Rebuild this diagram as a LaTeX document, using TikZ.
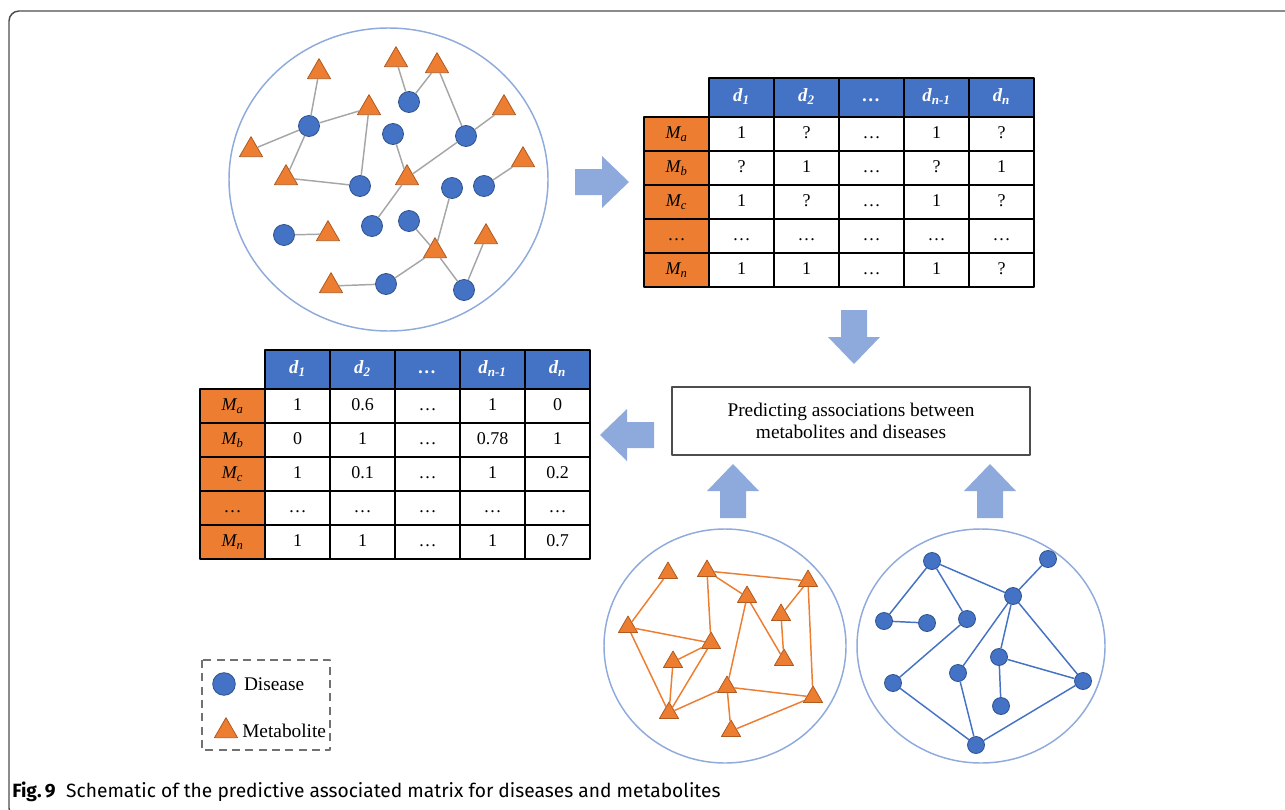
\documentclass[tikz,border=0pt]{standalone}
\usepackage{fontspec}
\setmainfont{Liberation Serif}
\newfontfamily\capfont{Fira Sans}
\usetikzlibrary{shapes.geometric,positioning}
\definecolor{disblue}{HTML}{4472C4}
\definecolor{disline}{HTML}{2F528F}
\definecolor{metor}{HTML}{ED7D31}
\definecolor{metline}{HTML}{AE5A21}
\definecolor{ringblue}{HTML}{8FAADC}
\definecolor{arrblue}{HTML}{8EA9DB}
\definecolor{edgegrey}{HTML}{A6A6A6}
\definecolor{framegrey}{HTML}{4D4D4D}
\tikzset{
  dis/.style={circle,fill=disblue,draw=disline,line width=0.6pt,inner sep=0pt,minimum size=15.75pt},
  met/.style={regular polygon,regular polygon sides=3,fill=metor,draw=metline,line width=0.6pt,inner sep=0pt,minimum size=20pt},
  ring/.style={draw=ringblue,line width=1.1pt},
  greyedge/.style={draw=edgegrey,line width=1.1pt},
  oredge/.style={draw=metor,line width=1.1pt},
  blueedge/.style={draw=disblue,line width=1.1pt},
  cell/.style={draw=black,line width=1.1pt,minimum width=48.75pt,minimum height=25.5pt,inner sep=0pt,
    text height=9pt,text depth=2.5pt,font=\fontsize{13.5}{16}\selectfont},
  headcell/.style={cell,fill=disblue,minimum height=29.25pt,text=white,font=\fontsize{14}{16}\selectfont\bfseries\itshape},
  rowcell/.style={cell,fill=metor,font=\fontsize{13.5}{16}\selectfont\itshape},
  bigarrow/.style={fill=arrblue},
  legtext/.style={inner sep=0pt,font=\fontsize{14.5}{17}\selectfont}
}
\begin{document}
\begin{tikzpicture}[x=0.75pt,y=-0.75pt,line join=round]
\clip (0,0) rectangle (1285,810);
% frame
\draw[framegrey,line width=1.1pt,rounded corners=7.5pt] (1295,11) -- (9,11) -- (9,818) -- (40,818);
% known network
\draw[ring] (388.5,179.5) ellipse [x radius=159.5, y radius=151.5];
\foreach \n/\x/\y in {t1/319/72, t2/396/60, t3/437/66, t4/369/108, t5/504/108, t6/251/150, t7/286/178,
  t8/407/178, t9/523/160, t10/328/234, t11/486/237, t12/435/251, t13/331/286}
  \node[met] (\n) at (\x,\y) {};
\foreach \n/\x/\y in {c1/409/102, c2/309/126, c3/393/134, c4/466/136, c5/360/186, c6/452/188,
  c7/484/186, c8/372/226, c9/409/221, c10/284/235, c11/386/284, c12/464/290}
  \node[dis] (\n) at (\x,\y) {};
\foreach \a/\b in {t1/c2, c2/t4, c2/t6, c2/t7, t7/c5, t4/c5, t2/c1, c1/t3, t3/c4, c4/t5, c4/t8,
  c3/t8, t8/c8, c7/t9, c10/t10, c6/t12, c9/t12, t12/c12, t12/c11, c11/t13, c12/t11}
  \draw[greyedge] (\a) -- (\b);
% block arrows
\foreach \x/\y/\a in {602/182/0, 854/337/-90, 627/435/180, 733/491/90, 990/491/90}
  \fill[bigarrow,shift={(\x,\y)},rotate=\a] (-27,-13) -- (0,-13) -- (0,-26) -- (27,0) -- (0,26) -- (0,13) -- (-27,13) -- cycle;
% matrices: header and row labels
\foreach \mx/\my/\tag in {644/78/kn, 200/350/pr} {
  \foreach \h [count=\c] in {d\textsubscript{1}, d\textsubscript{2}, …, d\textsubscript{n-1}, d\textsubscript{n}}
    \node[headcell] (\tag-0-\c) at ({\mx+32.5+65*\c},{\my+19.5}) {\h};
  \foreach \l [count=\r] in {M\textsubscript{a}, M\textsubscript{b}, M\textsubscript{c}, \textup{…}, M\textsubscript{n}}
    \node[rowcell] (\tag-\r-0) at ({\mx+32.5},{\my+22+34*\r}) {\l};
}
\foreach \row [count=\r] in {{1,?,…,1,?},{?,1,…,?,1},{1,?,…,1,?},{…,…,…,…,…},{1,1,…,1,?}}
  \foreach \v [count=\c] in \row
    \node[cell] (kn-\r-\c) at ({644+32.5+65*\c},{78+22+34*\r}) {\v};
\foreach \row [count=\r] in {{1,0.6,…,1,0},{0,1,…,0.78,1},{1,0.1,…,1,0.2},{…,…,…,…,…},{1,1,…,1,0.7}}
  \foreach \v [count=\c] in \row
    \node[cell] (pr-\r-\c) at ({200+32.5+65*\c},{350+22+34*\r}) {\v};
% prediction step
\node[draw=framegrey,line width=1.1pt,minimum width=268.5pt,minimum height=51pt,align=center,
  font=\fontsize{14.5}{16.5}\selectfont] (pred) at (851,421) {Predicting associations between\\metabolites and diseases};
% metabolite network
\draw[ring] (725,646) ellipse [x radius=121, y radius=117];
\foreach \n/\x/\y in {o1/668/573, o2/707/571, o3/808/581, o4/747/597, o5/781/615, o6/628/627,
  o7/711/643, o8/673/662, o9/784/660, o10/727/687, o11/813/697, o12/669/713, o13/731/731}
  \node[met,minimum size=16.5pt] (\n) at (\x,\y) {};
\foreach \a/\b in {o1/o6, o2/o3, o2/o4, o2/o7, o3/o5, o3/o11, o4/o9, o4/o10, o5/o9, o6/o7, o6/o12,
  o7/o8, o7/o12, o8/o12, o12/o10, o10/o11, o10/o13, o13/o11}
  \draw[oredge] (\a) -- (\b);
% disease network
\draw[ring] (981,646) ellipse [x radius=124, y radius=117];
\foreach \n/\x/\y in {b1/932/561, b2/1048/559, b3/1013/596, b4/884/621, b5/927/623, b6/967/619,
  b7/999/657, b8/893/683, b9/958/673, b10/1083/681, b11/1001/706, b12/976/745}
  \node[dis,minimum size=12.75pt] (\n) at (\x,\y) {};
\foreach \a/\b in {b1/b4, b4/b5, b1/b6, b1/b3, b2/b3, b3/b9, b3/b7, b3/b10, b6/b8, b7/b10, b7/b11,
  b8/b12, b9/b12, b12/b10}
  \draw[blueedge] (\a) -- (\b);
% legend
\draw[framegrey!80,line width=1.1pt,dash pattern=on 6pt off 4pt] (202,660) rectangle (330,750);
\node[dis,minimum size=17pt] (legdis) at (224,684) {};
\node[legtext,right=6pt of legdis] (legdistext) {Disease};
\node[met,minimum size=20pt] (legmet) at (226,731) {};
\node[legtext,right=5pt of legmet.center,xshift=7pt,anchor=west] (legmettext) {Metabolite};
% caption
\node[anchor=west,inner sep=0pt,font=\capfont\fontsize{14.4}{16}\selectfont] (caption) at (12,792)
  {\textbf{Fig.\,9}\hspace{0.55em}Schematic of the predictive associated matrix for diseases and metabolites};
\end{tikzpicture}
\end{document}
